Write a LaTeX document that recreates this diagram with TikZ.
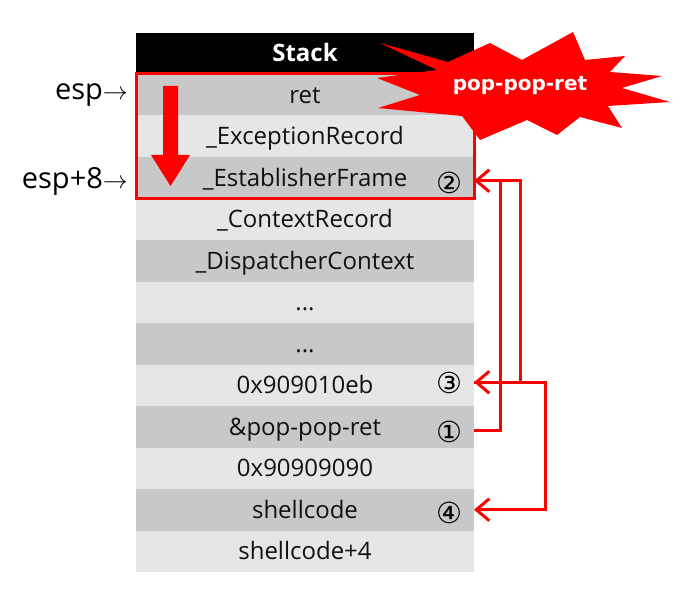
\documentclass[tikz,border=0pt]{standalone}
\usepackage{fontspec}
\setmainfont{Open Sans}
\newfontfamily\symf{DejaVu Sans}
\newfontfamily\burstf{DejaVu Sans}
\usetikzlibrary{arrows.meta}
\definecolor{dk}{HTML}{C8C8C8}
\definecolor{lt}{HTML}{E6E6E6}
\definecolor{rd}{HTML}{FF0000}
\definecolor{txt}{HTML}{111111}
\begin{document}
\begin{tikzpicture}[x=1pt,y=-1pt,
  cell/.style={minimum width=338pt, minimum height=41.5pt, inner sep=0pt, outer sep=0pt,
    text height=21pt, text depth=4pt, text=txt, font=\fontsize{24}{28}\selectfont},
  dkcell/.style={cell, fill=dk},
  ltcell/.style={cell, fill=lt},
  num/.style={inner sep=0pt, font=\symf\fontsize{29}{32}\selectfont},
  link/.style={rd, line width=3pt, line join=miter, -{Straight Barb[length=13pt,width=22pt,line width=3pt]}},
  esplabel/.style={anchor=east, inner sep=0pt, font=\fontsize{29}{33}\selectfont}]
\useasboundingbox (0,0) rectangle (695,601);
% header
\node[cell, fill=black, text=white, minimum height=41pt, font=\bfseries\fontsize{24}{28}\selectfont] (hd) at (305,53.5) {Stack};
% rows
\node[dkcell] (r0) at (305,94.75) {ret};
\node[ltcell] (r1) at (305,136.25) {\_ExceptionRecord};
\node[dkcell] (r2) at (305,177.75) {\_EstablisherFrame};
\node[ltcell] (r3) at (305,219.25) {\_ContextRecord};
\node[dkcell] (r4) at (305,260.75) {\_DispatcherContext};
\node[ltcell] (r5) at (305,302.25) {...};
\node[dkcell] (r6) at (305,343.75) {...};
\node[ltcell] (r7) at (305,385.25) {0x909010eb};
\node[dkcell] (r8) at (305,426.75) {\&pop-pop-ret};
\node[ltcell] (r9) at (305,468.25) {0x90909090};
\node[dkcell] (r10) at (305,509.75) {shellcode};
\node[ltcell] (r11) at (305,551.25) {shellcode+4};
% circled numbers
\node[num] (c2) at (449,183) {②};
\node[num] (c3) at (449,383) {③};
\node[num] (c1) at (449,432) {①};
\node[num] (c4) at (449,513) {④};
% esp labels
\node[esplabel] (esp) at (128,95) {esp$\rightarrow$};
\node[esplabel] (esp8) at (128,181) {esp+8$\rightarrow$};
% red box around top three rows
\draw[rd, line width=3pt] (r0.north west) rectangle (r2.south east);
% big down arrow
\fill[rd] (163,86) -- (178,86) -- (178,155) -- (190,155) -- (170.5,186) -- (151,155) -- (163,155) -- cycle;
% starburst
\fill[rd] (377,78) -- (437,70) -- (380,43) -- (448,62) -- (490,43) -- (522,60) -- (573,32)
  -- (585,60) -- (625,56) -- (610,72) -- (662,76) -- (622,88) -- (670,102) -- (608,106)
  -- (622,128) -- (580,117) -- (557,135) -- (527,120) -- (480,140) -- (462,116)
  -- (378,108) -- (420,95) -- cycle;
\node[text=white, inner sep=0pt, font=\burstf\bfseries\fontsize{20}{24}\selectfont] (burst) at (520,86) {pop-pop-ret};
% connectors
\draw[link] ([yshift=-4pt]r8.east) -- ++(26,0) |- ([yshift=-3pt]r2.east);
\draw[link] ([yshift=-3pt]r2.east) -- ++(46,0) |- ([yshift=3pt]r7.east);
\draw[link] ([yshift=3pt]r7.east) -- ++(71,0) |- (r10.east);
\end{tikzpicture}
\end{document}
